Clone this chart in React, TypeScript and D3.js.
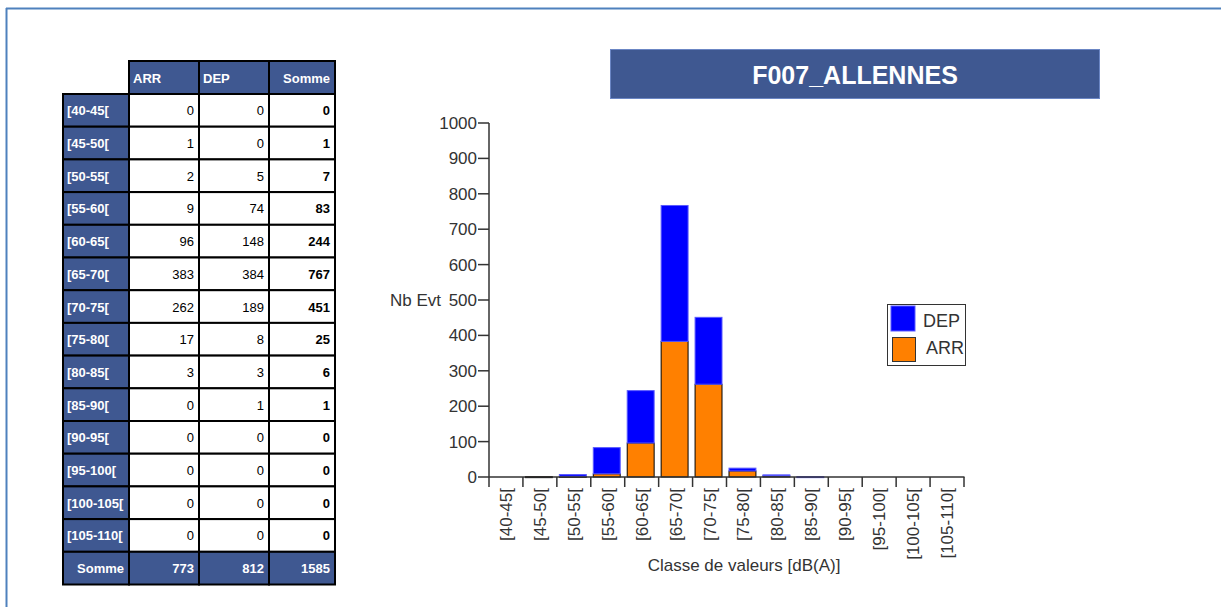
import * as d3 from "d3";
import React from "react";

const classes = [
  "[40-45[", "[45-50[", "[50-55[", "[55-60[", "[60-65[", "[65-70[", "[70-75[",
  "[75-80[", "[80-85[", "[85-90[", "[90-95[", "[95-100[", "[100-105[", "[105-110[",
];
const arr = [0, 1, 2, 9, 96, 383, 262, 17, 3, 0, 0, 0, 0, 0];
const dep = [0, 0, 5, 74, 148, 384, 189, 8, 3, 1, 0, 0, 0, 0];
const yTicks = [0, 100, 200, 300, 400, 500, 600, 700, 800, 900, 1000];
const headers = ["ARR", "DEP", "Somme"];
const title = "F007_ALLENNES";

const FONT = "'Liberation Sans', Arial, sans-serif";
const HEAD = "#3f5891";
const AX = "#333";

export default function App() {
  // chart scales
  const x = d3.scaleBand<string>().domain(classes).range([489, 964]).paddingInner(0).paddingOuter(0);
  const y = d3.scaleLinear().domain([0, 1000]).range([477, 123]);
  const bw = x.bandwidth();
  const barW = bw - 7;
  const stack = d3.stack<number>().keys(["arr", "dep"]).value((i, k) => (k === "arr" ? arr[i] : dep[i]));
  const series = stack(d3.range(classes.length));

  // table geometry
  const colX = [63, 129, 199, 269, 335];
  const rowY = d3.scaleLinear().domain([0, 1]).range([94, 126.7]);
  const headTop = 61;

  const sums = classes.map((_, i) => arr[i] + dep[i]);
  const totArr = d3.sum(arr);
  const totDep = d3.sum(dep);
  const rows = classes.map((c, i) => [arr[i], dep[i], sums[i]]);

  return (
    <svg width={1221} height={607} style={{ position: "absolute", left: 0, top: 0, background: "#fff" }} fontFamily={FONT}>
      {/* page frame */}
      <line x1={6.5} y1={8} x2={6.5} y2={607} stroke="#4f81bd" strokeWidth={2} />
      <line x1={6} y1={8.5} x2={1221} y2={8.5} stroke="#4f81bd" strokeWidth={2} />

      {/* table header */}
      {headers.map((h, j) => (
        <g key={h}>
          <rect x={colX[j + 1]} y={headTop} width={colX[j + 2] - colX[j + 1]} height={rowY(0) - headTop} fill={HEAD} stroke="#000" strokeWidth={2} />
          <text
            x={j === 2 ? colX[j + 2] - 5 : colX[j + 1] + 4}
            y={headTop + 22}
            fill="#fff"
            fontWeight="bold"
            fontSize={13}
            textAnchor={j === 2 ? "end" : "start"}
          >
            {h}
          </text>
        </g>
      ))}
      {/* table body */}
      {rows.map((vals, i) => {
        const t = rowY(i);
        const h = rowY(i + 1) - t;
        return (
          <g key={classes[i]}>
            <rect x={colX[0]} y={t} width={colX[1] - colX[0]} height={h} fill={HEAD} stroke="#000" strokeWidth={2} />
            <text x={colX[0] + 4} y={t + h / 2 + 5} fill="#fff" fontWeight="bold" fontSize={13}>
              {classes[i]}
            </text>
            {vals.map((v, j) => (
              <g key={j}>
                <rect x={colX[j + 1]} y={t} width={colX[j + 2] - colX[j + 1]} height={h} fill="#fff" stroke="#000" strokeWidth={2} />
                <text x={colX[j + 2] - 5} y={t + h / 2 + 5} fill="#000" fontSize={13} textAnchor="end" fontWeight={j === 2 ? "bold" : "normal"}>
                  {v}
                </text>
              </g>
            ))}
          </g>
        );
      })}
      {(() => {
        const t = rowY(classes.length);
        const h = rowY(classes.length + 1) - t;
        const tot = [totArr, totDep, totArr + totDep];
        return (
          <g>
            <rect x={colX[0]} y={t} width={colX[1] - colX[0]} height={h} fill={HEAD} stroke="#000" strokeWidth={2} />
            <text x={colX[1] - 5} y={t + h / 2 + 5} fill="#fff" fontWeight="bold" fontSize={13} textAnchor="end">
              Somme
            </text>
            {tot.map((v, j) => (
              <g key={j}>
                <rect x={colX[j + 1]} y={t} width={colX[j + 2] - colX[j + 1]} height={h} fill={HEAD} stroke="#000" strokeWidth={2} />
                <text x={colX[j + 2] - 5} y={t + h / 2 + 5} fill="#fff" fontWeight="bold" fontSize={13} textAnchor="end">
                  {v}
                </text>
              </g>
            ))}
          </g>
        );
      })()}

      {/* title */}
      <rect x={610.5} y={49.5} width={489} height={49} fill={HEAD} stroke="#6b86c4" strokeWidth={1} />
      <text x={855} y={84} fill="#fff" fontWeight="bold" fontSize={25} textAnchor="middle">
        {title}
      </text>

      {/* bars */}
      {series.map((s) =>
        s.map((d, i) => {
          const top = y(d[1]);
          const bot = y(d[0]);
          if (d[1] - d[0] <= 0) return null;
          const isArr = s.key === "arr";
          return (
            <rect
              key={`${s.key}-${i}`}
              x={x(classes[i])! + 2.5}
              y={top}
              width={barW}
              height={Math.max(bot - top, 1)}
              fill={isArr ? "#ff8000" : "#0000ff"}
              stroke={isArr ? "#000" : "#5a5aff"}
              strokeWidth={1}
            />
          );
        })
      )}

      {/* y axis */}
      <line x1={489} y1={y(1000)} x2={489} y2={y(0)} stroke={AX} strokeWidth={1.5} />
      {yTicks.map((t) => (
        <g key={t}>
          <line x1={478} x2={489} y1={y(t)} y2={y(t)} stroke={AX} strokeWidth={1.5} />
          <text x={477} y={y(t) + 6} textAnchor="end" fontSize={17} fill={AX}>
            {t}
          </text>
        </g>
      ))}
      <text x={390} y={306} fontSize={17} fill={AX}>
        Nb Evt
      </text>

      {/* x axis */}
      <line x1={489} y1={y(0)} x2={964.5} y2={y(0)} stroke={AX} strokeWidth={1.5} />
      {[...classes.map((c) => x(c)!), 964].map((px, i) => (
        <line key={i} x1={px} x2={px} y1={y(0)} y2={y(0) + 10} stroke={AX} strokeWidth={1.5} />
      ))}
      {classes.map((c) => {
        const cx = x(c)! + bw / 2 + 6;
        return (
          <text key={c} transform={`translate(${cx},488) rotate(-90)`} textAnchor="end" fontSize={17} fill={AX}>
            {c}
          </text>
        );
      })}
      <text x={744} y={571} textAnchor="middle" fontSize={17} fill={AX}>
        Classe de valeurs [dB(A)]
      </text>

      {/* legend */}
      <rect x={887.5} y={304.5} width={78} height={61} fill="#fff" stroke={AX} strokeWidth={1} />
      <rect x={891} y={306} width={24} height={25} fill="#0000ff" stroke="#5a5aff" />
      <rect x={892.5} y={337.5} width={23} height={24} fill="#ff8000" stroke={AX} />
      <text x={923} y={327} fontSize={18} fill={AX}>DEP</text>
      <text x={926} y={354} fontSize={18} fill={AX}>ARR</text>
    </svg>
  );
}
